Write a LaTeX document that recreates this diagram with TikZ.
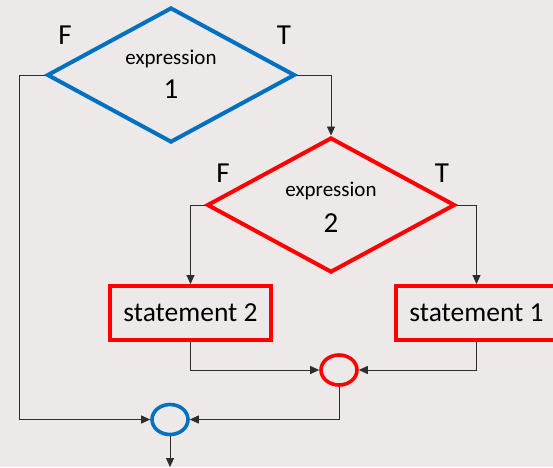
\documentclass[tikz,border=0pt]{standalone}
\usepackage{fontspec}
\setmainfont{Carlito}
\usetikzlibrary{shapes.geometric,arrows.meta}
\definecolor{bgc}{RGB}{237,233,233}
\definecolor{blueline}{RGB}{0,112,192}
\definecolor{redline}{RGB}{255,0,0}
\definecolor{conn}{RGB}{45,45,45}
\tikzset{
  dia/.style={diamond, draw, line width=4pt, inner sep=0pt, minimum width=248pt, minimum height=135pt},
  stmtbox/.style={rectangle, draw=redline, line width=4pt, inner sep=0pt, minimum width=161pt, minimum height=54pt, font=\fontsize{27.5}{30}\selectfont},
  joinpt/.style={ellipse, draw, line width=3.6pt, inner sep=0pt, minimum width=36pt, minimum height=30pt},
  exprtxt/.style={font=\fontsize{21}{24}\selectfont, inner sep=0pt},
  numtxt/.style={font=\fontsize{29}{31}\selectfont, inner sep=0pt},
  ftlabel/.style={font=\fontsize{29}{31}\selectfont, inner sep=0pt},
  conline/.style={draw=conn, line width=0.9pt},
  arr/.style={conline, -{Triangle[length=9pt,width=8pt]}}
}
\begin{document}
\begin{tikzpicture}[x=1pt,y=-1pt]
\useasboundingbox (0,0) rectangle (553,467);
\clip (0,0) rectangle (553,467);
\fill[bgc] (0,0) rectangle (553,467);

% diamonds
\node[dia, draw=blueline] (d1) at (171,75) {};
\node[exprtxt] (e1) at (171,59) {expression};
\node[numtxt] (n1) at (171,89) {1};
\node[ftlabel] (f1) at (65,35) {F};
\node[ftlabel] (t1) at (284,35) {T};

\node[dia, draw=redline] (d2) at (331,205) {};
\node[exprtxt] (e2) at (331,191) {expression};
\node[numtxt] (n2) at (331,223) {2};
\node[ftlabel] (f2) at (223,173) {F};
\node[ftlabel] (t2) at (442,173) {T};

% statements
\node[stmtbox] (s2) at (190.5,313) {statement 2};
\node[stmtbox] (s1) at (476.5,313) {statement 1};

% join circles
\node[joinpt, draw=redline] (c2) at (339,370) {};
\node[joinpt, draw=blueline] (c1) at (170,419.5) {};

\coordinate (lft) at (19.5,75);
\coordinate (out) at (170,467);

% connectors
\draw[arr] (d1.east) -| (d2.north);
\draw[arr] (d2.west) -| (s2.north);
\draw[arr] (d2.east) -| (s1.north);
\draw[arr] (s2.south) |- (c2.west);
\draw[arr] (s1.south) |- (c2.east);
\draw[arr] (c2.south) |- (c1.east);
\draw[arr] (d1.west) -- (lft) |- (c1.west);
\draw[arr] (c1.south) -- (out);
\end{tikzpicture}
\end{document}
